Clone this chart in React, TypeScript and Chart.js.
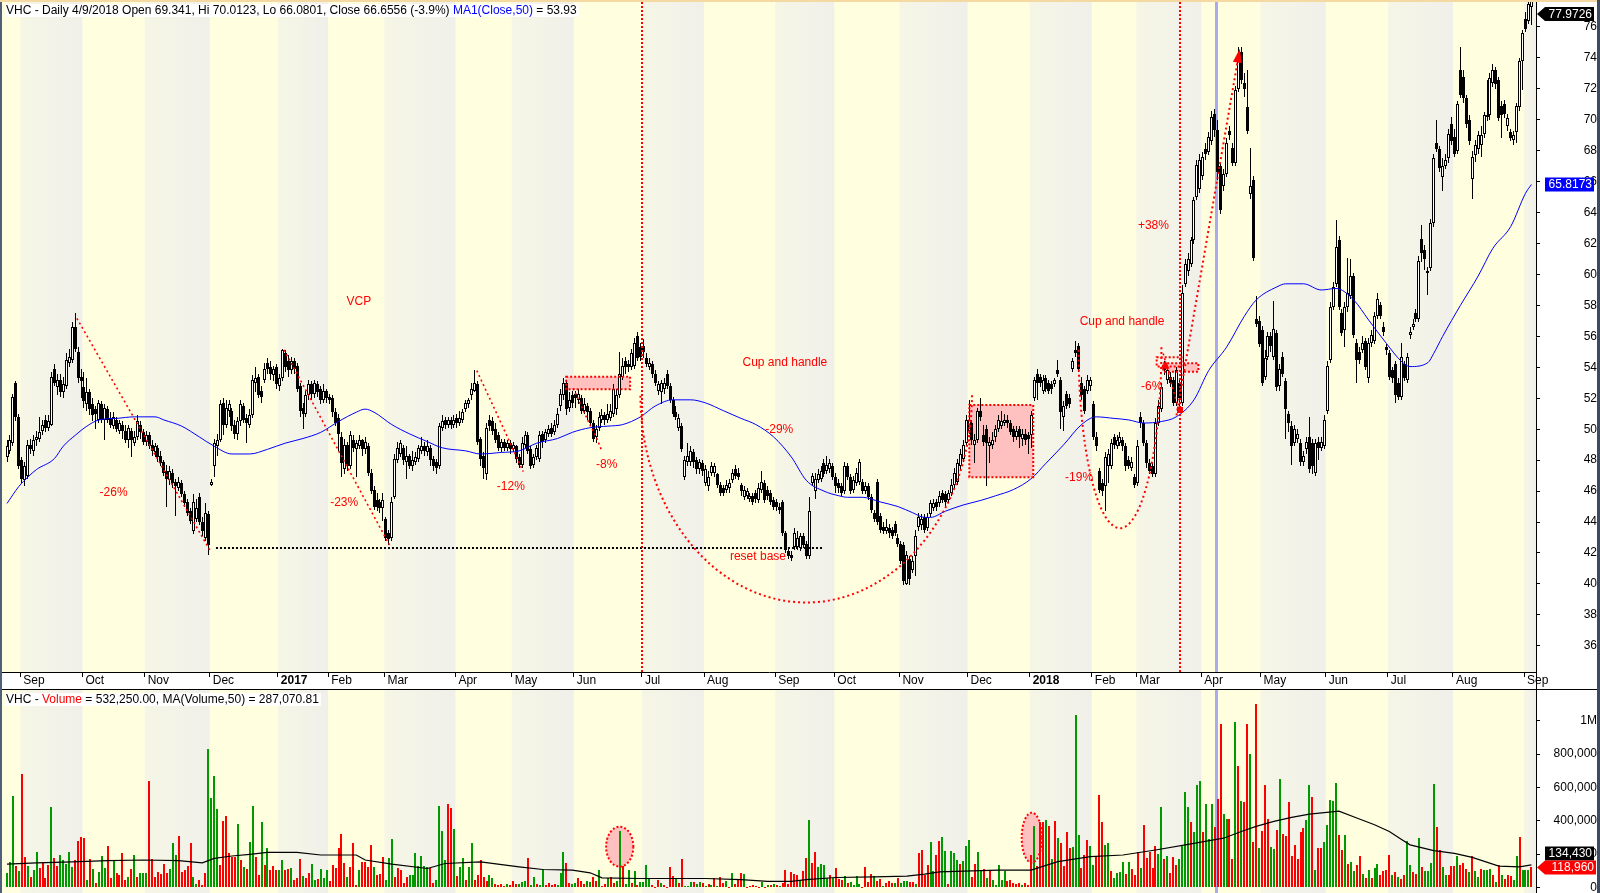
import React, { useEffect, useRef } from "react";
import { Chart, registerables } from "chart.js";

Chart.register(...registerables);

const FONT = '"Liberation Sans", Arial, Helvetica, sans-serif';
const W = 1600;
const PRICE_H = 690;
const VOL_H = 203;
const X_MIN = -1.69;
const X_MAX = 516.55;
const AXIS_W = 61;
const RED = "#FF0000";
const PINK = "#FFC0C0";

// ---------------- data ----------------
// first bar index of each month (bars are trading days, index 0 = late Aug 2016)
const monthStart = [5, 26, 47, 69, 92, 109, 128, 152, 171, 192, 215, 236, 260, 280, 302, 325, 346, 367, 382, 404, 424, 446, 467, 489, 513];
const monthLabels = ["Sep", "Oct", "Nov", "Dec", "2017", "Feb", "Mar", "Apr", "May", "Jun", "Jul", "Aug", "Sep", "Oct", "Nov", "Dec", "2018", "Feb", "Mar", "Apr", "May", "Jun", "Jul", "Aug", "Sep"];

const open = [
  48.2,48.6,49.1,53.0,50.8,48.0,46.7,47.0,49.0,48.6,
  49.3,49.4,49.9,50.6,50.1,50.3,53.9,52.7,53.2,52.4,
  52.8,54.3,54.5,56.6,55.0,53.4,52.7,51.6,52.4,51.6,
  51.3,50.6,51.6,50.6,51.3,50.7,50.2,50.6,49.9,50.3,
  49.9,49.3,49.9,49.1,49.5,50.3,49.8,49.2,49.6,49.0,
  48.5,48.8,48.3,47.9,47.3,46.7,47.2,46.6,46.2,46.5,
  45.8,45.3,44.7,43.4,44.2,45.6,44.0,43.0,44.5,46.4,
  47.6,48.9,49.3,51.7,50.3,51.2,51.2,50.3,49.7,50.5,
  51.5,50.7,50.3,50.9,53.0,53.4,52.5,53.2,54.3,54.0,
  53.5,54.0,52.8,53.3,54.9,54.4,53.8,54.4,54.1,52.8,
  51.4,51.0,52.2,52.9,52.3,52.9,52.6,51.9,52.5,52.1,
  52.0,51.1,50.7,49.5,47.4,49.0,47.6,49.3,48.7,48.9,
  49.3,48.7,48.9,47.2,46.1,45.4,45.3,44.9,44.2,43.3,
  43.0,45.6,48.0,48.4,48.8,47.9,48.3,47.6,47.9,48.1,
  48.6,48.9,48.5,48.8,48.1,47.9,47.6,50.1,50.6,50.3,
  50.6,50.3,50.7,50.4,50.6,51.3,51.6,52.2,52.5,52.9,
  49.4,48.3,47.1,50.6,50.5,50.0,49.6,48.8,49.2,48.8,
  49.1,48.7,48.9,48.2,47.7,49.0,49.6,48.7,47.7,48.2,
  48.1,49.7,49.3,49.7,50.1,49.8,50.3,51.5,52.2,53.0,
  51.4,52.2,52.3,51.9,52.0,51.2,51.5,51.2,50.4,49.5,
  50.1,50.6,50.9,50.6,50.7,51.0,51.3,52.2,53.4,54.4,
  54.2,54.0,54.1,56.0,55.3,55.4,54.6,54.0,54.2,53.6,
  52.5,52.4,52.6,53.6,52.8,51.9,51.1,50.1,50.2,46.9,
  47.9,47.9,48.5,48.0,47.4,47.8,46.5,46.3,47.2,47.2,
  47.1,46.4,46.2,46.1,46.2,46.7,47.4,47.2,46.4,45.6,
  45.7,45.5,45.7,45.9,45.4,46.1,46.5,46.1,45.9,45.4,
  45.3,45.0,45.3,43.3,42.1,41.9,42.4,42.4,42.3,43.1,
  42.6,41.8,46.5,46.0,46.7,46.8,47.8,47.3,47.4,47.6,
  46.9,46.5,46.3,46.0,47.6,46.9,46.1,46.5,46.6,46.6,
  46.0,46.3,45.6,44.6,46.6,44.4,43.7,43.4,43.6,43.5,
  43.9,43.0,42.6,42.5,40.0,41.6,40.9,41.8,43.7,43.8,
  44.3,43.6,44.5,44.9,45.3,45.2,45.9,45.8,45.4,45.9,
  46.4,46.6,47.6,48.1,49.1,49.9,50.4,49.0,49.3,51.2,
  49.6,50.0,48.9,49.0,49.5,50.0,50.2,50.4,50.6,50.4,
  50.0,49.5,50.0,49.4,49.7,49.6,49.6,52.0,53.6,53.4,
  52.5,53.3,53.0,52.9,52.9,53.8,53.2,50.8,52.3,52.0,
  53.9,55.1,55.4,53.0,52.6,52.5,52.8,51.6,49.5,47.3,
  46.5,46.3,47.6,47.6,49.5,48.9,49.1,49.3,48.9,48.0,
  47.5,46.9,46.5,50.8,50.4,49.1,47.8,47.6,47.1,50.4,
  51.3,54.1,53.2,53.4,53.2,51.7,53.0,51.7,59.4,60.2,
  60.7,62.2,65.0,65.5,66.4,68.1,67.9,68.6,70.4,69.341,
  67.0,65.7,66.5,69.3,68.2,67.2,72.0,74.4,72.4,70.8,
  65.2,66.1,57.1,57.0,56.4,53.4,54.7,56.0,54.7,56.2,
  52.8,54.7,53.1,51.0,50.2,49.1,49.4,49.1,47.9,48.7,
  49.5,49.1,47.2,49.2,48.8,48.9,51.2,54.5,57.9,59.4,
  62.2,57.5,56.4,57.9,58.6,59.9,55.6,55.0,55.1,55.7,
  53.3,55.6,55.7,57.3,58.0,56.6,55.3,54.9,53.8,54.2,
  53.0,52.1,54.2,53.2,56.1,56.6,57.5,57.1,62.3,61.6,
  60.2,60.4,63.3,68.5,68.1,66.3,67.0,67.5,69.7,68.9,
  68.0,73.2,72.8,71.4,70.0,66.2,67.7,68.1,68.4,69.1,
  70.2,70.3,72.4,73.2,72.6,70.9,71.0,69.6,69.2,68.7,
  69.2,70.8,73.8,76.5,76.4,77.3,
];

const high = [
  49.3,49.6,52.3,53.1,51.0,48.2,47.9,49.3,49.4,49.6,
  49.9,50.8,50.6,50.9,50.9,53.7,54.2,53.6,53.6,53.4,
  54.9,55.2,56.9,57.5,55.3,53.9,53.7,53.3,52.6,52.0,
  51.5,51.9,51.8,51.6,51.5,51.1,51.1,50.8,50.6,50.5,
  50.3,50.3,50.1,49.9,50.9,50.5,50.0,49.9,49.8,49.3,
  49.1,49.0,48.6,48.0,47.7,47.6,47.4,46.8,46.9,46.7,
  46.0,45.5,44.9,45.8,45.5,45.9,44.3,45.2,44.7,46.8,
  49.4,49.7,51.9,52.0,51.9,51.9,51.4,50.6,50.8,51.9,
  51.7,51.0,51.3,53.5,54.0,53.6,52.8,54.3,54.6,54.4,
  54.1,54.2,53.6,55.2,55.1,54.8,54.7,54.6,54.3,53.0,
  51.7,52.5,53.2,53.1,53.2,53.1,52.8,52.9,52.6,52.3,
  52.2,51.4,51.0,49.8,49.4,49.2,49.9,49.6,49.3,49.6,
  49.4,49.5,49.1,47.4,46.3,45.9,45.5,45.9,44.3,43.5,
  45.6,48.4,49.2,49.3,49.0,48.9,48.4,48.6,48.5,49.0,
  49.5,49.2,49.3,49.0,48.3,48.1,50.4,50.9,50.8,50.8,
  50.8,50.9,51.0,51.2,51.3,51.9,52.0,53.0,53.8,53.1,
  49.5,48.5,50.4,50.9,50.8,50.4,49.8,49.4,49.4,49.3,
  49.3,49.2,49.0,48.4,49.5,49.9,49.8,48.9,48.4,49.0,
  49.9,49.9,50.0,50.3,50.4,50.6,51.4,52.6,53.3,53.2,
  52.4,52.5,52.5,52.6,52.2,52.0,51.7,51.4,50.6,50.3,
  51.1,51.3,51.1,51.6,51.6,52.9,52.6,55.0,54.6,54.7,
  54.5,55.2,55.9,56.3,55.6,55.8,54.9,54.6,54.4,53.8,
  53.1,53.2,53.3,53.8,53.0,52.1,51.5,51.0,50.4,48.3,
  49.1,48.9,48.7,48.2,48.1,48.0,47.7,47.3,47.9,47.8,
  47.2,46.6,46.4,46.7,46.8,47.4,47.7,47.5,46.5,46.3,
  46.2,45.9,45.9,46.1,46.5,47.3,46.7,46.3,46.1,45.6,
  45.5,45.2,45.4,43.4,42.3,42.1,43.6,43.4,43.3,43.3,
  42.8,45.6,47.2,47.2,47.4,47.6,48.1,48.3,48.1,47.8,
  47.2,46.8,46.5,47.9,47.8,47.1,47.0,47.5,48.1,46.8,
  46.6,46.5,45.8,44.8,46.8,44.6,44.0,44.2,43.9,43.7,
  44.1,43.2,42.8,42.7,42.1,41.8,41.8,43.5,44.6,44.5,
  44.5,44.6,45.4,45.5,45.5,46.0,46.1,46.0,46.1,46.8,
  47.5,48.1,48.7,49.3,50.9,51.9,50.6,49.7,51.4,52.0,
  50.3,50.3,49.5,49.8,50.3,50.9,51.2,51.0,50.9,50.6,
  50.2,50.2,50.2,50.0,50.0,49.8,51.2,53.4,53.9,53.6,
  53.5,53.5,53.2,53.1,53.3,54.5,53.4,51.8,52.5,52.3,
  54.6,55.7,55.6,53.4,52.8,53.5,53.4,51.8,49.8,47.5,
  46.8,48.5,48.7,49.4,49.7,49.6,49.8,49.5,49.1,48.3,
  48.2,47.1,49.3,51.1,50.6,49.3,48.1,47.8,50.7,51.9,
  53.0,54.4,54.1,53.7,53.4,54.0,53.2,59.3,61.0,61.4,
  62.4,65.0,67.4,67.8,67.9,68.5,69.2,70.6,70.7,70.0123,
  67.2,66.8,68.8,69.6,68.5,72.2,74.7,74.7,73.0,73.2,
  68.2,66.4,58.6,57.3,56.7,55.1,56.3,56.3,58.3,56.4,
  54.2,55.0,53.3,51.2,50.5,50.3,50.0,49.4,48.6,49.5,
  50.8,49.4,49.4,49.5,49.5,50.9,54.4,58.2,59.5,63.5,
  62.5,57.8,58.2,61.1,61.0,60.1,55.8,55.3,56.0,55.9,
  55.9,56.4,57.6,58.8,58.2,56.9,55.5,55.1,54.0,54.4,
  53.3,55.6,54.4,54.9,56.6,57.1,57.8,61.2,63.2,61.9,
  60.5,63.6,67.8,70.0,68.3,67.5,67.8,69.4,70.2,69.4,
  71.2,74.7,73.2,71.6,70.3,68.0,68.7,69.3,69.6,70.5,
  72.6,73.0,73.6,73.4,72.8,71.2,71.3,70.4,69.4,69.3,
  71.1,74.0,75.8,77.0,77.7,78.2,
];

const low = [
  47.9,48.4,48.9,50.5,47.4,46.5,46.3,46.8,48.4,48.3,
  48.9,49.2,49.6,49.8,49.9,50.2,52.8,52.2,52.1,52.0,
  52.6,54.0,54.3,55.0,53.0,52.0,51.4,51.2,50.9,50.5,
  50.0,50.4,50.4,49.3,50.4,50.1,50.0,49.8,49.7,49.4,
  49.1,48.8,48.2,48.9,49.3,49.4,49.0,48.9,48.7,48.3,
  48.2,47.9,47.6,47.0,45.0,46.4,46.2,44.4,46.0,45.6,
  45.0,44.4,43.9,43.2,44.0,43.8,43.1,42.8,41.9,46.3,
  46.9,48.3,49.2,49.6,50.1,50.8,49.9,49.4,49.3,50.2,
  50.4,49.1,50.1,50.7,52.4,52.0,51.7,53.0,53.6,53.2,
  53.1,52.6,52.5,53.1,53.7,53.4,53.6,53.6,52.4,50.8,
  50.0,50.8,51.9,51.9,52.0,52.1,51.6,51.7,51.7,51.6,
  50.8,50.2,48.6,46.9,47.1,47.3,47.4,48.5,46.9,48.7,
  48.3,48.4,47.0,45.8,44.8,44.7,44.6,44.1,42.8,42.5,
  42.8,45.5,47.8,48.2,47.7,46.8,47.4,47.3,47.7,47.9,
  48.4,48.3,48.3,47.6,47.3,47.1,47.4,49.9,50.0,50.1,
  50.0,50.1,50.1,50.2,50.4,51.1,51.4,51.9,52.4,49.0,
  47.6,46.8,46.7,49.9,49.6,49.1,48.6,48.5,48.6,48.6,
  48.4,48.5,47.8,47.5,47.5,48.8,48.4,47.4,47.5,48.0,
  47.9,48.8,49.1,49.5,49.5,49.6,50.1,51.2,51.9,50.9,
  51.1,51.4,51.4,51.6,51.0,51.0,50.6,50.2,49.2,49.1,
  49.9,50.4,50.3,50.4,50.5,50.8,50.9,52.0,53.2,53.6,
  53.7,53.8,53.9,54.4,54.4,54.6,54.0,53.8,53.3,52.8,
  52.2,51.6,52.3,52.6,51.7,50.8,50.6,49.9,48.5,46.7,
  47.6,47.6,47.5,47.1,47.1,47.0,46.3,46.0,47.0,46.9,
  46.2,45.7,45.7,45.9,45.9,46.5,46.8,46.7,45.7,45.4,
  45.5,45.3,45.1,45.2,45.2,45.9,45.2,45.4,45.1,44.8,
  44.7,44.5,43.1,42.0,41.6,41.5,42.2,42.2,42.1,42.3,
  41.6,41.6,46.3,45.5,46.5,46.6,46.9,47.1,47.2,46.7,
  45.9,45.9,45.7,45.8,46.7,45.8,45.9,46.3,46.4,45.8,
  45.8,45.4,44.6,44.0,43.8,43.3,43.2,43.2,43.0,42.9,
  43.1,42.4,41.3,39.9,39.9,39.9,40.7,40.5,43.4,43.5,
  43.3,43.4,44.3,44.7,44.7,45.0,45.2,45.0,45.2,45.7,
  46.2,46.4,47.3,47.9,48.9,49.7,49.0,47.8,49.1,50.5,
  48.9,46.3,47.8,48.7,49.2,49.8,50.0,50.2,50.1,49.6,
  49.2,49.3,48.8,48.9,49.0,48.4,48.8,51.8,51.9,52.7,
  52.3,52.4,52.3,52.3,52.7,53.4,50.0,49.9,51.3,51.4,
  53.7,54.7,53.7,51.9,51.0,52.3,52.5,49.3,48.6,45.9,
  45.7,44.7,46.5,47.4,48.7,48.7,48.9,48.6,47.3,47.4,
  47.3,46.2,46.3,50.1,48.9,47.5,47.1,46.9,46.9,50.2,
  51.1,53.5,52.9,52.7,51.5,51.5,51.2,51.5,59.2,59.9,
  60.5,62.0,64.8,65.3,66.1,67.4,67.7,68.4,68.9,66.0801,
  63.9,65.4,66.3,68.7,67.0,67.0,71.8,72.3,71.5,69.1,
  64.9,60.9,56.6,55.3,52.8,53.2,54.5,55.0,54.5,52.5,
  52.5,53.4,49.4,49.8,47.7,48.9,49.1,47.6,47.6,48.4,
  47.2,47.1,47.0,48.0,48.6,48.7,51.0,54.3,57.7,59.2,
  57.7,56.0,55.3,57.6,58.4,55.9,53.0,54.2,54.9,53.8,
  53.0,55.3,55.5,57.1,57.1,56.0,54.8,53.2,53.0,51.7,
  51.9,51.9,53.1,53.0,55.8,56.4,56.9,56.9,60.8,60.3,
  58.7,60.2,63.1,67.9,66.6,65.4,66.8,67.2,68.4,67.6,
  67.8,71.4,71.1,69.5,68.4,64.9,67.3,67.8,67.6,68.8,
  69.9,70.0,72.1,72.0,69.9,68.8,70.1,69.3,68.6,68.4,
  68.5,70.6,71.9,75.7,76.2,76.1,
];

const close = [
  48.9,49.3,52.1,50.8,47.6,46.8,47.6,49.0,48.7,49.3,
  49.5,49.8,50.3,50.1,50.5,53.4,53.0,53.2,52.4,52.9,
  54.5,54.7,56.6,55.2,53.3,53.1,51.8,52.4,51.3,50.9,
  51.0,51.7,50.6,51.4,50.6,50.3,50.8,50.0,50.4,49.9,
  49.3,50.1,49.3,49.5,50.5,49.8,49.2,49.6,48.9,48.6,
  48.9,48.2,47.8,47.2,46.8,47.3,46.5,46.3,46.6,45.8,
  45.2,44.6,44.1,45.3,44.9,44.0,43.4,44.6,42.5,46.6,
  49.1,49.3,51.6,50.3,51.4,51.6,50.2,49.7,50.5,51.6,
  50.6,50.4,50.9,53.2,53.3,52.2,52.1,53.9,53.9,53.6,
  53.9,52.9,53.3,55.1,54.0,53.8,54.4,53.9,52.6,51.2,
  51.0,52.2,52.9,52.3,53.0,52.4,51.9,52.5,52.0,51.9,
  51.1,50.4,49.7,47.8,49.0,47.6,49.6,48.8,49.1,49.3,
  48.7,49.2,47.2,46.0,45.0,45.0,44.9,45.4,43.0,42.9,
  45.3,48.1,48.8,49.1,48.0,48.3,47.6,48.0,48.2,48.8,
  48.9,48.6,48.9,48.0,47.6,47.5,50.2,50.5,50.3,50.6,
  50.3,50.6,50.4,50.7,51.1,51.7,51.9,52.6,53.0,49.2,
  48.1,47.5,50.1,50.2,49.9,49.3,48.8,49.2,48.8,49.1,
  48.7,49.0,48.1,47.7,49.1,49.6,48.6,47.6,48.2,48.8,
  49.6,49.2,49.8,50.0,49.7,50.3,51.0,52.3,53.0,51.3,
  51.9,51.7,52.0,52.3,51.2,51.6,51.1,50.4,49.4,50.0,
  50.8,50.9,50.6,51.0,51.2,52.6,52.2,53.6,54.1,54.0,
  54.0,54.9,55.6,54.6,54.7,55.0,54.2,54.3,53.6,53.0,
  52.9,53.0,53.0,52.8,51.9,51.0,50.8,50.7,48.7,48.0,
  48.3,48.6,47.9,47.4,47.9,47.3,47.4,46.9,47.6,47.6,
  46.4,45.9,45.9,46.4,46.5,47.2,47.0,46.9,46.0,46.1,
  46.0,45.7,45.3,45.5,46.2,46.6,45.4,45.7,45.3,45.0,
  45.0,44.8,43.3,42.2,41.8,41.7,43.3,43.0,43.1,42.5,
  41.8,44.7,47.0,46.8,47.1,47.3,47.1,47.7,47.8,46.9,
  46.3,46.2,45.9,47.6,46.9,46.0,46.7,47.2,47.9,46.0,
  46.3,45.6,44.8,44.2,44.0,43.5,43.4,43.7,43.3,43.1,
  43.3,42.6,41.5,40.2,41.9,40.3,41.5,43.1,44.3,44.2,
  43.5,44.3,45.2,45.2,45.0,45.7,45.4,45.3,45.9,46.4,
  47.2,47.8,48.4,49.0,50.6,50.6,49.3,49.3,51.2,50.8,
  49.2,49.1,49.2,49.3,50.0,50.6,50.5,50.6,50.4,49.8,
  49.5,49.9,49.5,49.7,49.3,49.4,50.9,53.2,53.0,53.0,
  53.2,52.6,52.5,52.6,53.2,53.6,51.1,51.5,51.5,51.6,
  54.4,54.9,53.9,52.2,51.2,53.2,53.2,49.5,48.9,46.1,
  46.0,48.2,48.4,49.1,49.0,49.3,49.5,48.9,47.6,47.6,
  47.9,46.4,48.9,50.4,49.1,47.8,47.3,47.1,50.4,51.5,
  52.7,53.8,53.8,53.0,51.7,53.8,52.0,58.8,60.7,61.0,
  62.2,64.8,67.1,67.4,67.6,67.8,68.9,70.2,69.36,66.6556,
  64.2,66.5,68.5,69.0,67.2,71.9,74.1,72.6,72.0,69.3,
  65.7,61.1,56.8,55.5,53.0,54.6,56.0,55.4,56.5,52.7,
  53.9,53.6,51.3,50.4,48.9,50.0,49.7,47.9,48.3,49.2,
  47.4,47.6,49.1,48.8,49.2,50.6,54.1,57.9,59.2,61.8,
  57.9,56.2,57.9,58.8,59.9,56.1,54.5,54.5,55.6,54.0,
  55.6,56.1,57.3,58.4,57.3,56.3,55.1,53.4,53.3,52.2,
  52.1,54.7,53.3,54.7,56.3,56.8,57.1,60.9,61.4,61.0,
  60.1,63.3,67.5,68.1,66.9,67.0,67.4,69.1,68.6,67.8,
  71.0,71.6,71.4,69.7,68.6,67.6,68.4,69.0,69.0,70.3,
  70.3,72.7,73.2,72.3,70.1,70.3,70.4,70.1,68.8,69.0,
  70.9,73.8,75.6,75.9,77.5,77.9726,
];

// volume in thousands of shares, and whether the bar was printed green (1) or red (0)
const volumeK = [
  87,154,547,127,99,679,184,127,63,103,
  214,113,147,57,133,481,178,127,194,164,
  139,214,123,164,279,305,299,42,170,109,
  26,93,188,117,248,53,164,87,73,208,
  46,63,109,194,60,87,87,87,638,168,
  63,93,79,139,83,109,269,194,309,93,
  103,127,265,63,18,46,12,83,830,537,
  669,471,133,400,430,208,180,184,382,164,
  119,109,273,491,184,73,394,133,234,103,
  127,103,103,164,103,107,113,46,53,172,
  67,53,83,139,42,50,107,57,103,38,
  133,113,238,321,143,63,119,265,12,103,
  154,154,119,255,119,73,79,184,42,174,
  289,59,113,103,26,59,73,73,208,127,
  188,127,123,113,26,46,491,339,164,503,
  477,349,67,123,174,46,119,269,46,73,
  164,63,38,73,53,22,12,18,6,18,
  12,38,22,22,32,38,174,12,63,22,
  12,107,12,26,12,18,12,
  87,212,147,26,22,26,57,36,22,36,
  30,63,36,103,8,22,57,63,26,36,
  339,127,18,103,26,97,16,30,30,133,
  57,12,2,42,26,12,2,123,67,53,
  26,170,8,8,30,30,18,30,26,8,
  20,14,57,8,59,26,36,2,87,22,
  46,87,81,2,6,12,6,2,30,2,
  12,12,18,12,6,26,103,22,91,79,
  73,42,97,178,406,147,212,121,139,133,
  57,73,53,117,51,42,69,26,30,16,
  67,20,2,121,30,79,67,38,51,8,
  26,36,26,26,57,26,36,36,32,30,
  20,206,224,73,133,273,97,194,279,303,
  218,18,218,208,164,141,158,251,285,59,
  139,212,103,109,55,103,42,12,133,
  42,97,36,42,26,22,26,12,26,12,
  194,370,127,390,390,406,366,170,400,299,
  269,129,333,238,244,1032,315,117,196,285,
  251,135,186,552,394,255,267,97,55,85,
  90,152,81,152,109,73,212,115,376,176,
  212,115,251,200,485,170,188,85,182,135,
  170,251,570,485,394,333,616,636,333,503,
  291,503,364,532.25,982,442,412,412,170,994,
  727,521,515,982,800,273,1103,236,339,612,
  412,242,230,345,648,321,309,515,188,255,
  170,333,358,406,612,545,103,236,236,273,
  376,527,521,624,313,224,315,139,154,97,
  133,188,79,55,103,55,115,139,73,97,
  103,194,73,91,61,48,73,281,
  133,93,79,297,123,99,99,143,618,364,
  224,123,73,73,127,127,188,133,143,111,
  90,188,99,63,107,103,103,111,71,30,
  131,73,51,71,67,42,188,305,103,103,
  103,118.96,
];

const volumeUp = [
  1,1,1,0,1,0,0,1,0,1,
  1,0,0,0,0,1,0,0,1,1,
  1,1,1,0,0,0,0,1,0,1,
  0,1,1,1,0,0,1,0,0,0,
  0,1,0,1,0,1,1,1,0,0,
  0,0,0,0,0,1,1,1,0,0,
  0,0,0,1,1,0,0,0,1,1,
  1,1,0,0,0,0,0,0,1,0,
  1,0,1,1,0,0,1,0,1,0,
  0,0,1,1,0,0,1,0,0,0,
  1,0,0,1,1,0,1,1,1,0,
  0,0,0,0,0,1,0,0,0,1,
  0,0,0,0,1,0,0,0,1,1,
  1,0,0,0,0,0,1,1,1,1,
  1,1,1,0,0,1,1,1,1,0,
  0,1,0,1,1,0,1,1,0,0,
  0,0,0,1,1,0,0,0,0,1,
  0,0,0,1,1,1,0,1,1,0,
  1,1,0,0,0,0,1,
  1,1,0,0,1,1,0,0,0,1,
  1,0,0,1,0,0,1,0,0,1,
  1,0,1,1,0,1,0,1,1,1,
  1,0,0,0,1,0,0,0,0,1,
  0,0,1,1,1,0,1,1,0,1,
  0,1,0,1,0,0,1,0,1,0,
  0,0,1,0,0,0,0,0,1,0,
  1,0,1,0,1,0,0,0,0,0,
  0,1,0,0,1,0,0,1,1,1,
  1,0,1,0,0,0,1,0,1,1,
  1,1,0,0,0,0,1,0,0,1,
  0,0,0,1,0,1,1,1,0,0,
  1,0,0,0,0,1,1,0,0,1,
  1,0,1,1,1,0,1,1,1,0,
  0,1,1,0,1,0,1,1,1,
  1,1,0,0,0,0,0,1,0,0,
  0,1,0,0,0,1,0,1,0,1,
  0,0,0,0,1,1,1,0,0,0,
  1,1,0,0,0,1,1,0,1,1,
  1,1,0,1,0,0,0,1,0,0,
  0,0,0,1,1,0,1,0,0,0,
  1,1,1,1,0,1,1,1,0,1,
  1,1,0,0,0,1,1,0,0,1,
  0,1,0,0,1,0,0,1,0,0,
  0,1,1,0,1,0,0,0,0,0,
  0,0,0,1,1,0,1,0,0,1,
  1,1,1,1,0,0,1,0,1,1,
  0,0,1,0,1,0,1,1,0,0,
  0,0,1,0,1,0,0,1,
  1,0,0,1,0,1,1,1,1,0,
  0,1,1,0,0,0,1,0,0,0,
  1,0,1,1,0,1,1,1,0,1,
  0,1,0,0,0,1,1,0,1,1,
  1,0,
];

// 50-day moving average of the close (bar index, value)
const maCloseIdx = [0,4,7,10,16,19,23,27,31,37,43,50,53,59,65,70,76,82,88,94,100,106,112,118,121,124,130,136,142,147,155,160,167,173,179,186,191,197,203,208,214,219,225,231,236,242,248,253,259,265,270,276,281,284,289,295,301,306,310,312,317,323,329,334,340,346,351,357,363,368,374,379,384,390,395,401,406,412,418,422,429,432,438,444,449,455,460,466,471,474,480,482,485,491,497,502,508,513,515];
const maCloseVal = [45.2,46.3,46.9,47.4,48.1,48.9,49.6,50.2,50.6,50.7,50.8,50.8,50.6,50.2,49.5,48.9,48.4,48.4,48.7,49.1,49.4,49.8,50.5,51.1,51.3,51.1,50.3,49.7,49.2,48.8,48.6,48.4,48.5,48.6,49.1,49.4,49.8,50.1,50.2,50.3,50.8,51.5,51.9,51.9,51.7,51.2,50.7,50.3,49.5,48.2,46.7,46.0,45.7,45.6,45.6,45.3,45.0,44.6,44.3,44.3,44.7,45.1,45.4,45.7,46.1,46.8,47.8,49.0,50.3,50.8,50.7,50.6,50.4,50.5,50.8,51.9,53.8,55.3,57.3,58.35,59.2,59.4,59.4,59.0,59.1,58.35,57.06,55.55,54.4,54.05,54.3,54.9,56.0,58.0,59.9,61.7,63.1,65.25,65.8173];

// 50-day moving average of volume, thousands (bar index, value)
const maVolIdx = [0,10,22,34,46,58,66,70,76,82,88,98,106,118,121,130,142,148,160,173,181,191,197,201,214,225,236,248,257,265,270,280,293,304,310,315,326,335,346,355,366,377,388,400,411,417,422,428,434,440,450,456,462,467,471,474,482,489,495,504,511,515];
const maVolK = [139,147,153,160,164,160,147,174,188,198,210,210,194,194,164,139,113,143,153,123,107,103,87,57,53,53,53,46,36,36,46,59,63,67,79,93,99,103,103,154,184,194,224,261,295,335,366,396,420,440,457,416,376,335,289,255,220,204,180,127,123,134.43];

const priceTicks = [36,38,40,42,44,46,48,50,52,54,56,58,60,62,64,66,68,70,72,74,76];
const volumeTicks = [0,200000,400000,600000,800000,1000000];

const selectedBar = 409;
const headerPrice = "VHC - Daily 4/9/2018 Open 69.341, Hi 70.0123, Lo 66.0801, Close 66.6556 (-3.9%) ";
const headerMA = "MA1(Close,50)";
const headerMAValue = " = 53.93";
const headerVol1 = "VHC - ";
const headerVol2 = "Volume";
const headerVol3 = " = 532,250.00, MA(Volume,50) = 287,070.81";
const lastClose = 77.9726;
const lastMA = 65.8173;
const lastVolume = 118960;
const lastVolMA = 134430;

// ---------------- annotations (in bar-index / price units) ----------------
const markLines = [214.4, 396.3];
const supportLine = { from: 70.6, to: 275.8, value: 42.3 };
const trendLines = [
  [[23.6, 57.17], [68.8, 42.09]],
  [[93.6, 55.13], [129.2, 42.52]],
  [[158.7, 53.79], [165.4, 51.03], [169.0, 49.52], [174.4, 47.26]],
  [[191.3, 52.65], [194.1, 51.46], [196.9, 50.3], [199.1, 49.5], [200.8, 48.66]],
  [[390.6, 54.9], [395.7, 51.35]],
];
const boxes = [
  { x0: 188.9, x1: 210.5, y0: 52.58, y1: 53.39, fill: true },
  { x0: 325.1, x1: 346.7, y0: 46.9, y1: 51.57, fill: true },
  { x0: 390.6, x1: 402.5, y0: 53.72, y1: 54.26, fill: true },
  { x0: 388.4, x1: 396.8, y0: 54.05, y1: 54.65, fill: false },
];
const cups = [
  { cx: 270, cy: 52.2, rx: 56, ry: 13.4 },
  { cx: 376, cy: 55.3, rx: 14, ry: 11.7 },
];
const arrowLine = { x0: 395.1, y0: 50.9, x1: 416.3, y1: 74.4 };
const triMarker = { x: 391.4, y: 54.1 };
const sqMarker = { x: 396.2, y: 51.25 };
const notes: [string, number, number][] = [
  ["VCP", 118.9, 58.24],
  ["-26%", 36.0, 45.88],
  ["-23%", 113.9, 45.25],
  ["-12%", 170.2, 46.28],
  ["-8%", 202.6, 47.73],
  ["Cup and handle", 262.8, 54.3],
  ["-29%", 260.9, 49.99],
  ["reset base", 253.7, 41.76],
  ["Cup and handle", 376.7, 56.95],
  ["-19%", 362.2, 46.87],
  ["-6%", 386.7, 52.75],
  ["+38%", 387.3, 63.14],
];
const volumeMarks = [
  { cx: 207.0, cy: 244000, rx: 4.6, ry: 120000 },
  { cx: 346.2, cy: 298000, rx: 3.4, ry: 150000 },
];

// ---------------- drawing helpers ----------------
function drawBands(chart: any) {
  const { ctx, chartArea: a } = chart;
  const xs = chart.scales.x;
  ctx.save();
  ctx.fillStyle = "#FFFFE0";
  ctx.fillRect(a.left, a.top, a.right - a.left, a.bottom - a.top);
  for (let j = 0; j < monthStart.length; j += 2) {
    const x0 = Math.max(a.left, xs.getPixelForValue(monthStart[j] - 0.5));
    const x1 = Math.min(a.right, j + 1 < monthStart.length ? xs.getPixelForValue(monthStart[j + 1] - 0.5) : a.right);
    if (x1 <= x0) continue;
    const g = ctx.createLinearGradient(x0, 0, x1, 0);
    g.addColorStop(0, "#F6F6E6");
    g.addColorStop(1, "#F0F0EA");
    ctx.fillStyle = g;
    ctx.fillRect(x0, a.top, x1 - x0, a.bottom - a.top);
  }
  ctx.restore();
}

function drawSelection(chart: any) {
  const { ctx, chartArea: a } = chart;
  const x = Math.round(chart.scales.x.getPixelForValue(selectedBar) - 1.2);
  ctx.save();
  ctx.fillStyle = "#AAAAF2";
  ctx.fillRect(x - 1, a.top, 3, a.bottom - a.top);
  ctx.restore();
}

function richText(ctx: any, x: number, baseline: number, parts: [string, string][]) {
  ctx.save();
  ctx.font = `12px ${FONT}`;
  ctx.textAlign = "left";
  ctx.textBaseline = "alphabetic";
  let total = 0;
  for (const p of parts) total += ctx.measureText(p[0]).width;
  ctx.fillStyle = "#FFFFFF";
  ctx.fillRect(x - 1, baseline - 10, total + 3, 13);
  let cx = x;
  for (const [t, c] of parts) {
    ctx.fillStyle = c;
    ctx.fillText(t, cx, baseline);
    cx += ctx.measureText(t).width;
  }
  ctx.restore();
}

function valueTag(ctx: any, text: string, yc: number, fill: string, arrow: boolean, left: number, right: number) {
  const h = 14;
  ctx.save();
  ctx.fillStyle = fill;
  ctx.beginPath();
  if (arrow) {
    ctx.moveTo(left, yc);
    ctx.lineTo(left + 8, yc - h / 2);
    ctx.lineTo(right, yc - h / 2);
    ctx.lineTo(right, yc + h / 2);
    ctx.lineTo(left + 8, yc + h / 2);
    ctx.closePath();
  } else {
    ctx.rect(left, yc - h / 2, right - left, h);
  }
  ctx.fill();
  ctx.fillStyle = "#FFFFFF";
  ctx.font = `12px ${FONT}`;
  ctx.textAlign = "right";
  ctx.textBaseline = "middle";
  ctx.fillText(text, right - 2, yc + 0.5);
  ctx.restore();
}

function frame(ctx: any, h: number, top: boolean) {
  ctx.save();
  if (top) {
    ctx.fillStyle = "#F5D9A2";
    ctx.fillRect(0, 0, W, 2);
  }
  ctx.fillStyle = "#50607A";
  ctx.fillRect(0, top ? 2 : 0, 2, h);
  ctx.fillStyle = "#3E4A60";
  ctx.fillRect(W - 3, 0, 3, h);
  ctx.restore();
}

const snapPlugin = {
  id: "snapBars",
  beforeDatasetsDraw(chart: any) {
    chart.getSortedVisibleDatasetMetas().forEach((meta: any) => {
      if (meta.type !== "bar") return;
      meta.data.forEach((el: any) => {
        if (!isFinite(el.x) || !isFinite(el.y)) return;
        const w = el.width;
        el.x = Math.round(el.x - w / 2) + w / 2;
        el.y = Math.round(el.y);
        el.base = Math.round(el.base);
        if (Math.abs(el.base - el.y) < 1) el.base = el.y + 1;
      });
    });
  },
};

const pricePanelPlugin = {
  id: "pricePanel",
  beforeDraw(chart: any) {
    const { ctx } = chart;
    ctx.save();
    ctx.fillStyle = "#FFFFFF";
    ctx.fillRect(0, 0, chart.width, chart.height);
    ctx.restore();
    drawBands(chart);
  },
  beforeDatasetsDraw(chart: any) {
    const { ctx, chartArea: a } = chart;
    const X = (v: number) => chart.scales.x.getPixelForValue(v);
    const Y = (v: number) => chart.scales.y.getPixelForValue(v);
    drawSelection(chart);
    ctx.save();
    ctx.beginPath();
    ctx.rect(a.left, a.top, a.right - a.left, a.bottom - a.top);
    ctx.clip();
    ctx.fillStyle = PINK;
    for (const b of boxes) {
      if (!b.fill) continue;
      ctx.fillRect(X(b.x0), Y(b.y1), X(b.x1) - X(b.x0), Y(b.y0) - Y(b.y1));
    }
    ctx.restore();
  },
  afterDatasetsDraw(chart: any) {
    const { ctx, chartArea: a } = chart;
    const X = (v: number) => chart.scales.x.getPixelForValue(v);
    const Y = (v: number) => chart.scales.y.getPixelForValue(v);
    ctx.save();
    ctx.beginPath();
    ctx.rect(a.left, a.top, a.right - a.left, a.bottom - a.top);
    ctx.clip();

    // black dotted support line
    ctx.strokeStyle = "#000000";
    ctx.lineWidth = 2;
    ctx.setLineDash([2, 2]);
    ctx.beginPath();
    const ys = Math.round(Y(supportLine.value)) + 0.0;
    ctx.moveTo(X(supportLine.from), ys);
    ctx.lineTo(X(supportLine.to), ys);
    ctx.stroke();

    ctx.strokeStyle = RED;
    // vertical marks
    for (const m of markLines) {
      const x = Math.round(X(m));
      ctx.beginPath();
      ctx.moveTo(x, a.top);
      ctx.lineTo(x, a.bottom);
      ctx.stroke();
    }
    // pattern trend lines
    ctx.lineWidth = 1.6;
    ctx.setLineDash([2, 3]);
    for (const pts of trendLines) {
      ctx.beginPath();
      pts.forEach((p, k) => (k ? ctx.lineTo(X(p[0]), Y(p[1])) : ctx.moveTo(X(p[0]), Y(p[1]))));
      ctx.stroke();
    }
    // cups
    ctx.lineWidth = 2;
    ctx.setLineDash([2, 3]);
    for (const c of cups) {
      const cx = X(c.cx);
      const cy = Y(c.cy);
      ctx.beginPath();
      ctx.ellipse(cx, cy, X(c.cx + c.rx) - cx, Y(c.cy - c.ry) - cy, 0, 0, Math.PI);
      ctx.stroke();
    }
    // boxes
    ctx.setLineDash([2, 2]);
    for (const b of boxes) {
      ctx.strokeRect(X(b.x0), Y(b.y1), X(b.x1) - X(b.x0), Y(b.y0) - Y(b.y1));
    }
    // +38% arrow
    const ax0 = X(arrowLine.x0), ay0 = Y(arrowLine.y0), ax1 = X(arrowLine.x1), ay1 = Y(arrowLine.y1);
    ctx.setLineDash([2, 3]);
    ctx.beginPath();
    ctx.moveTo(ax0, ay0);
    ctx.lineTo(ax1, ay1);
    ctx.stroke();
    ctx.setLineDash([]);
    const len = Math.hypot(ax1 - ax0, ay1 - ay0);
    const dx = (ax1 - ax0) / len, dy = (ay1 - ay0) / len;
    const nx = -dy, ny = dx;
    ctx.fillStyle = RED;
    ctx.beginPath();
    ctx.moveTo(ax1 + dx * 3, ay1 + dy * 3);
    ctx.lineTo(ax1 - dx * 11 + nx * 4.5, ay1 - dy * 11 + ny * 4.5);
    ctx.lineTo(ax1 - dx * 11 - nx * 4.5, ay1 - dy * 11 - ny * 4.5);
    ctx.closePath();
    ctx.fill();
    // markers
    const tx = X(triMarker.x), ty = Y(triMarker.y);
    ctx.beginPath();
    ctx.moveTo(tx, ty - 5);
    ctx.lineTo(tx - 4, ty + 3);
    ctx.lineTo(tx + 4, ty + 3);
    ctx.closePath();
    ctx.fill();
    ctx.fillRect(Math.round(X(sqMarker.x)) - 3, Math.round(Y(sqMarker.y)) - 3, 6, 6);

    // notes
    ctx.font = `12px ${FONT}`;
    ctx.textAlign = "center";
    ctx.textBaseline = "middle";
    for (const [t, i, p] of notes) ctx.fillText(t, X(i), Y(p));
    ctx.restore();
  },
  afterDraw(chart: any) {
    const { ctx, chartArea: a } = chart;
    const xs = chart.scales.x;
    const Y = (v: number) => chart.scales.y.getPixelForValue(v);
    ctx.save();
    ctx.fillStyle = "#000000";
    // date strip borders and axis line continuation
    ctx.fillRect(0, Math.round(xs.top), a.left, 1);
    ctx.fillRect(0, PRICE_H - 1, W, 1);
    ctx.fillRect(a.right, Math.round(xs.top), 1, PRICE_H - Math.round(xs.top));
    ctx.restore();

    richText(ctx, 6, 14, [[headerPrice, "#000000"], [headerMA, "#0000FF"], [headerMAValue, "#000000"]]);

    const yClose = Math.max(a.top + 12, Math.min(a.bottom - 8, Y(lastClose)));
    valueTag(ctx, lastClose.toFixed(4), yClose, "#000000", true, a.right + 1, a.right + 58);
    valueTag(ctx, lastMA.toFixed(4), Y(lastMA), "#0000FF", false, a.right + 9, a.right + 58);
    frame(ctx, PRICE_H, true);
  },
};

const volumePanelPlugin = {
  id: "volumePanel",
  beforeDraw(chart: any) {
    const { ctx } = chart;
    ctx.save();
    ctx.fillStyle = "#FFFFFF";
    ctx.fillRect(0, 0, chart.width, chart.height);
    ctx.restore();
    drawBands(chart);
  },
  beforeDatasetsDraw(chart: any) {
    const { ctx } = chart;
    const X = (v: number) => chart.scales.x.getPixelForValue(v);
    const Y = (v: number) => chart.scales.y.getPixelForValue(v);
    drawSelection(chart);
    ctx.save();
    ctx.fillStyle = PINK;
    for (const m of volumeMarks) {
      const cx = X(m.cx), cy = Y(m.cy);
      ctx.beginPath();
      ctx.ellipse(cx, cy, X(m.cx + m.rx) - cx, cy - Y(m.cy + m.ry), 0, 0, Math.PI * 2);
      ctx.fill();
    }
    ctx.restore();
  },
  afterDatasetsDraw(chart: any) {
    const { ctx } = chart;
    const X = (v: number) => chart.scales.x.getPixelForValue(v);
    const Y = (v: number) => chart.scales.y.getPixelForValue(v);
    ctx.save();
    ctx.strokeStyle = RED;
    ctx.lineWidth = 2;
    ctx.setLineDash([2, 2]);
    for (const m of volumeMarks) {
      const cx = X(m.cx), cy = Y(m.cy);
      ctx.beginPath();
      ctx.ellipse(cx, cy, X(m.cx + m.rx) - cx, cy - Y(m.cy + m.ry), 0, 0, Math.PI * 2);
      ctx.stroke();
    }
    ctx.restore();
  },
  afterDraw(chart: any) {
    const { ctx, chartArea: a } = chart;
    const Y = (v: number) => chart.scales.y.getPixelForValue(v);
    richText(ctx, 6, 13, [[headerVol1, "#000000"], [headerVol2, RED], [headerVol3, "#000000"]]);
    const yv = Y(lastVolume);
    valueTag(ctx, lastVolMA.toLocaleString("en-US"), yv - 14, "#000000", false, a.right + 9, a.right + 58);
    valueTag(ctx, lastVolume.toLocaleString("en-US"), yv, RED, true, a.right + 1, a.right + 60);
    frame(ctx, VOL_H, false);
  },
};

// ---------------- chart configs ----------------
function priceConfig(): any {
  return {
    type: "bar",
    data: {
      datasets: [
        {
          type: "line",
          label: "MA1(Close,50)",
          data: maCloseIdx.map((x, k) => ({ x, y: maCloseVal[k] })),
          borderColor: "#0000FF",
          borderWidth: 1,
          pointRadius: 0,
          cubicInterpolationMode: "monotone",
          order: 0,
        },
        {
          type: "bar",
          label: "body",
          data: close.map((c, i) => ({ x: i, y: [Math.min(open[i], c), Math.max(open[i], c)] })),
          backgroundColor: close.map((c, i) => (c >= open[i] ? "#FFFFFF" : "#000000")),
          borderColor: "#000000",
          borderWidth: 1,
          borderSkipped: false,
          barThickness: 3,
          inflateAmount: 0,
          grouped: false,
          minBarLength: 1,
          order: 1,
        },
        {
          type: "bar",
          label: "range",
          data: high.map((h, i) => ({ x: i, y: [low[i], h] })),
          backgroundColor: "#000000",
          borderWidth: 0,
          barThickness: 1,
          inflateAmount: 0,
          grouped: false,
          order: 2,
        },
      ],
    },
    options: {
      animation: false,
      responsive: false,
      devicePixelRatio: 1,
      events: [],
      layout: { padding: { top: 2, left: 2, right: 3, bottom: 1 } },
      plugins: { legend: { display: false }, tooltip: { enabled: false }, title: { display: false } },
      scales: {
        x: {
          type: "linear",
          position: "bottom",
          min: X_MIN,
          max: X_MAX,
          offset: false,
          afterBuildTicks: (s: any) => {
            s.ticks = monthStart.map((m) => ({ value: m - 0.5 }));
          },
          afterFit: (s: any) => {
            s.height = 17;
            s.paddingLeft = 0;
            s.paddingRight = 0;
          },
          ticks: {
            autoSkip: false,
            maxRotation: 0,
            minRotation: 0,
            align: "start",
            labelOffset: 3,
            padding: -4,
            color: "#000000",
            font: (c: any) => ({
              family: FONT,
              size: 12,
              weight: /^\d{4}$/.test(monthLabels[c.index] || "") ? "bold" : "normal",
            }),
            callback: (_v: any, idx: number) => monthLabels[idx],
          },
          grid: { offset: false, drawOnChartArea: false, drawTicks: true, tickLength: 5, color: "#000000" },
          border: { display: true, color: "#000000", width: 1 },
        },
        y: {
          position: "right",
          min: 34.307,
          max: 77.616,
          afterBuildTicks: (s: any) => {
            s.ticks = priceTicks.map((v) => ({ value: v }));
          },
          afterFit: (s: any) => {
            s.width = AXIS_W;
            s.paddingTop = 0;
            s.paddingBottom = 0;
          },
          ticks: {
            crossAlign: "far",
            padding: 38.6,
            color: "#000000",
            font: { family: FONT, size: 12 },
            callback: (v: any) => String(v),
          },
          grid: { drawOnChartArea: false, drawTicks: true, tickLength: 4, color: "#000000" },
          border: { display: true, color: "#000000", width: 1 },
        },
      },
    },
    plugins: [snapPlugin, pricePanelPlugin],
  };
}

function volumeConfig(): any {
  return {
    type: "bar",
    data: {
      datasets: [
        {
          type: "line",
          label: "MA(Volume,50)",
          data: maVolIdx.map((x, k) => ({ x, y: maVolK[k] * 1000 })),
          borderColor: "#000000",
          borderWidth: 1.2,
          pointRadius: 0,
          tension: 0,
          order: 0,
        },
        {
          type: "bar",
          label: "Volume",
          data: volumeK.map((v, i) => ({ x: i, y: v * 1000 })),
          backgroundColor: volumeUp.map((u) => (u ? "#009A00" : "#FF0000")),
          borderWidth: 0,
          barThickness: 2,
          inflateAmount: 0,
          grouped: false,
          order: 1,
        },
      ],
    },
    options: {
      animation: false,
      responsive: false,
      devicePixelRatio: 1,
      events: [],
      layout: { padding: { top: 0, left: 2, right: 3, bottom: 0 } },
      plugins: { legend: { display: false }, tooltip: { enabled: false }, title: { display: false } },
      scales: {
        x: {
          type: "linear",
          min: X_MIN,
          max: X_MAX,
          offset: false,
          display: false,
          grid: { offset: false },
        },
        y: {
          position: "right",
          min: -34200,
          max: 1185000,
          afterBuildTicks: (s: any) => {
            s.ticks = volumeTicks.map((v) => ({ value: v }));
          },
          afterFit: (s: any) => {
            s.width = AXIS_W;
            s.paddingTop = 0;
            s.paddingBottom = 0;
          },
          ticks: {
            crossAlign: "far",
            padding: 8.6,
            color: "#000000",
            font: { family: FONT, size: 12 },
            callback: (v: any) => (Number(v) === 1000000 ? "1M" : Number(v).toLocaleString("en-US")),
          },
          grid: { drawOnChartArea: false, drawTicks: true, tickLength: 4, color: "#000000" },
          border: { display: true, color: "#000000", width: 1 },
        },
      },
    },
    plugins: [snapPlugin, volumePanelPlugin],
  };
}

export default function App() {
  const priceRef = useRef<HTMLCanvasElement | null>(null);
  const volRef = useRef<HTMLCanvasElement | null>(null);

  useEffect(() => {
    const pc = new Chart(priceRef.current as HTMLCanvasElement, priceConfig());
    const vc = new Chart(volRef.current as HTMLCanvasElement, volumeConfig());
    return () => {
      pc.destroy();
      vc.destroy();
    };
  }, []);

  return (
    <div style={{ position: "absolute", left: 0, top: 0, width: W, height: PRICE_H + VOL_H, background: "#FFFFFF", overflow: "hidden" }}>
      <canvas ref={priceRef} width={W} height={PRICE_H} style={{ position: "absolute", left: 0, top: 0, width: W, height: PRICE_H, display: "block" }} />
      <canvas ref={volRef} width={W} height={VOL_H} style={{ position: "absolute", left: 0, top: PRICE_H, width: W, height: VOL_H, display: "block" }} />
    </div>
  );
}
